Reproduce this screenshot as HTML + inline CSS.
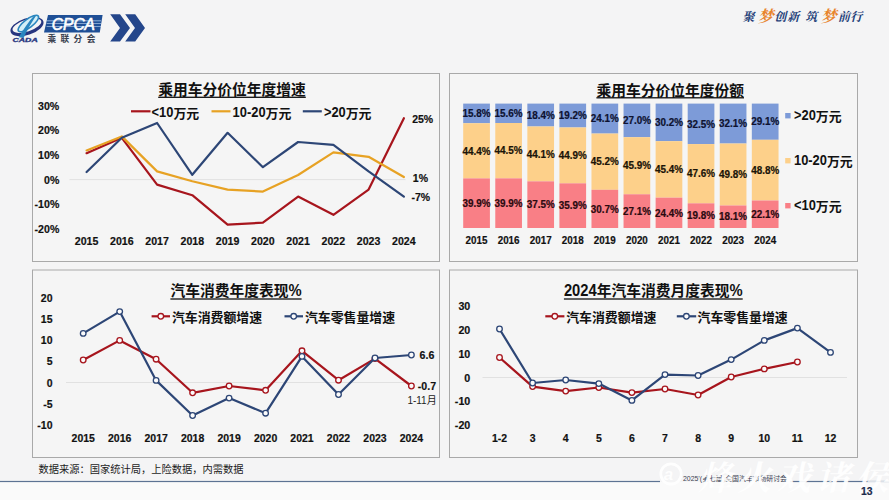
<!DOCTYPE html>
<html lang="zh"><head><meta charset="utf-8"><title>CPCA slide 13</title>
<style>
html,body{margin:0;padding:0;background:#f4f4f5;}
body{width:889px;height:500px;overflow:hidden;font-family:"Liberation Sans","Noto Sans CJK SC",sans-serif;}
svg{display:block;}
svg text{font-family:"Liberation Sans","Noto Sans CJK SC",sans-serif;}
</style></head><body>
<svg width="889" height="500" viewBox="0 0 889 500" font-family="Liberation Sans, Noto Sans CJK SC, sans-serif">
<rect x="0" y="0" width="889" height="500" fill="#f4f4f5"/>
<rect x="0" y="482" width="889" height="18" fill="#fafafa"/>
<rect x="32.5" y="73.5" width="407.0" height="188.0" fill="#f5f5f5" stroke="#a9a9a9" stroke-width="1"/>
<rect x="449.5" y="73.5" width="408.0" height="188.0" fill="#f5f5f5" stroke="#a9a9a9" stroke-width="1"/>
<rect x="32.5" y="270.0" width="407.0" height="187.5" fill="#f5f5f5" stroke="#a9a9a9" stroke-width="1"/>
<rect x="449.5" y="270.0" width="408.0" height="187.5" fill="#f5f5f5" stroke="#a9a9a9" stroke-width="1"/>
<g fill="#111111" aria-label="乘用车分价位年度增速"><text x="158.2" y="94.8" font-size="14.76" font-weight="bold">乘用车分价位年度增速</text></g>
<rect x="158.20" y="96.65" width="147.60" height="1.3" fill="#111111"/>
<line x1="131" y1="111.3" x2="150.5" y2="111.3" stroke="#a7151d" stroke-width="2.2"/>
<g fill="#111111" aria-label="&lt;10万元"><text transform="translate(151.60 117.37) scale(1 1.080)" font-size="12.90" font-weight="bold">&lt;10</text><text x="173.4" y="117.5" font-size="12.9" font-weight="bold">万元</text></g>
<line x1="211.5" y1="111.3" x2="230.5" y2="111.3" stroke="#e7a224" stroke-width="2.2"/>
<g fill="#111111" aria-label="10-20万元"><text transform="translate(232.60 117.37) scale(1 1.080)" font-size="12.90" font-weight="bold">10-20</text><text x="265.5" y="117.5" font-size="12.9" font-weight="bold">万元</text></g>
<line x1="302.8" y1="111.3" x2="321.8" y2="111.3" stroke="#2d4676" stroke-width="2.2"/>
<g fill="#111111" aria-label="&gt;20万元"><text transform="translate(323.90 117.37) scale(1 1.080)" font-size="12.90" font-weight="bold">&gt;20</text><text x="345.7" y="117.5" font-size="12.9" font-weight="bold">万元</text></g>
<text transform="translate(59.30 109.94) scale(1 1.080)" font-size="10.60" font-weight="bold" text-anchor="end" fill="#111111" stroke="#111111" stroke-width="0.18">30%</text>
<text transform="translate(59.30 134.44) scale(1 1.080)" font-size="10.60" font-weight="bold" text-anchor="end" fill="#111111" stroke="#111111" stroke-width="0.18">20%</text>
<text transform="translate(59.30 159.04) scale(1 1.080)" font-size="10.60" font-weight="bold" text-anchor="end" fill="#111111" stroke="#111111" stroke-width="0.18">10%</text>
<text transform="translate(59.30 183.64) scale(1 1.080)" font-size="10.60" font-weight="bold" text-anchor="end" fill="#111111" stroke="#111111" stroke-width="0.18">0%</text>
<text transform="translate(59.30 208.24) scale(1 1.080)" font-size="10.60" font-weight="bold" text-anchor="end" fill="#111111" stroke="#111111" stroke-width="0.18">-10%</text>
<text transform="translate(59.30 232.84) scale(1 1.080)" font-size="10.60" font-weight="bold" text-anchor="end" fill="#111111" stroke="#111111" stroke-width="0.18">-20%</text>
<line x1="69.5" y1="179.6" x2="405.5" y2="179.6" stroke="#dcdcdc" stroke-width="0.8"/>
<text transform="translate(86.60 245.34) scale(1 1.080)" font-size="10.60" font-weight="bold" text-anchor="middle" fill="#111111" stroke="#111111" stroke-width="0.18">2015</text>
<text transform="translate(121.85 245.34) scale(1 1.080)" font-size="10.60" font-weight="bold" text-anchor="middle" fill="#111111" stroke="#111111" stroke-width="0.18">2016</text>
<text transform="translate(157.10 245.34) scale(1 1.080)" font-size="10.60" font-weight="bold" text-anchor="middle" fill="#111111" stroke="#111111" stroke-width="0.18">2017</text>
<text transform="translate(192.35 245.34) scale(1 1.080)" font-size="10.60" font-weight="bold" text-anchor="middle" fill="#111111" stroke="#111111" stroke-width="0.18">2018</text>
<text transform="translate(227.60 245.34) scale(1 1.080)" font-size="10.60" font-weight="bold" text-anchor="middle" fill="#111111" stroke="#111111" stroke-width="0.18">2019</text>
<text transform="translate(262.85 245.34) scale(1 1.080)" font-size="10.60" font-weight="bold" text-anchor="middle" fill="#111111" stroke="#111111" stroke-width="0.18">2020</text>
<text transform="translate(298.10 245.34) scale(1 1.080)" font-size="10.60" font-weight="bold" text-anchor="middle" fill="#111111" stroke="#111111" stroke-width="0.18">2021</text>
<text transform="translate(333.35 245.34) scale(1 1.080)" font-size="10.60" font-weight="bold" text-anchor="middle" fill="#111111" stroke="#111111" stroke-width="0.18">2022</text>
<text transform="translate(368.60 245.34) scale(1 1.080)" font-size="10.60" font-weight="bold" text-anchor="middle" fill="#111111" stroke="#111111" stroke-width="0.18">2023</text>
<text transform="translate(403.85 245.34) scale(1 1.080)" font-size="10.60" font-weight="bold" text-anchor="middle" fill="#111111" stroke="#111111" stroke-width="0.18">2024</text>
<polyline fill="none" stroke="#a7151d" stroke-width="2.20" stroke-linejoin="round" stroke-linecap="round" points="86.6,153.2 121.8,137.8 157.1,184.6 192.3,195.2 227.6,224.6 262.9,222.7 298.1,196.6 333.4,214.8 368.6,189.6 403.9,118.2"/>
<polyline fill="none" stroke="#e7a224" stroke-width="2.20" stroke-linejoin="round" stroke-linecap="round" points="86.6,150.4 121.8,136.4 157.1,171.4 192.3,181.2 227.6,189.6 262.9,191.6 298.1,175.0 333.4,152.4 368.6,156.8 403.9,177.0"/>
<polyline fill="none" stroke="#2d4676" stroke-width="2.20" stroke-linejoin="round" stroke-linecap="round" points="86.6,172.0 121.8,137.8 157.1,123.0 192.3,174.8 227.6,132.8 262.9,167.2 298.1,142.0 333.4,144.8 368.6,171.4 403.9,196.6"/>
<text transform="translate(412.20 123.30) scale(1 1.080)" font-size="10.50" font-weight="bold" text-anchor="start" fill="#111111" stroke="#111111" stroke-width="0.18">25%</text>
<text transform="translate(412.80 181.70) scale(1 1.080)" font-size="10.50" font-weight="bold" text-anchor="start" fill="#111111" stroke="#111111" stroke-width="0.18">1%</text>
<text transform="translate(411.40 201.10) scale(1 1.080)" font-size="10.50" font-weight="bold" text-anchor="start" fill="#111111" stroke="#111111" stroke-width="0.18">-7%</text>
<g fill="#111111" aria-label="乘用车分价位年度份额"><text x="596.4" y="95.6" font-size="14.76" font-weight="bold">乘用车分价位年度份额</text></g>
<rect x="596.40" y="97.15" width="147.60" height="1.3" fill="#111111"/>
<rect x="463.20" y="103.60" width="26.70" height="19.64" fill="#7d9bd8"/>
<rect x="463.20" y="123.24" width="26.70" height="55.18" fill="#fdd08a"/>
<rect x="463.20" y="178.41" width="26.70" height="49.59" fill="#f97f86"/>
<text transform="translate(476.55 117.10) scale(1 1.080)" font-size="9.90" font-weight="bold" text-anchor="middle" fill="#0d1230" stroke="#0d1230" stroke-width="0.20">15.8%</text>
<text transform="translate(476.55 154.50) scale(1 1.080)" font-size="9.90" font-weight="bold" text-anchor="middle" fill="#1a1408" stroke="#1a1408" stroke-width="0.20">44.4%</text>
<text transform="translate(476.55 206.89) scale(1 1.080)" font-size="9.90" font-weight="bold" text-anchor="middle" fill="#2a0a10" stroke="#2a0a10" stroke-width="0.20">39.9%</text>
<text transform="translate(476.55 244.36) scale(1 1.080)" font-size="9.85" font-weight="bold" text-anchor="middle" fill="#111111" stroke="#111111" stroke-width="0.18">2015</text>
<rect x="495.27" y="103.60" width="26.70" height="19.41" fill="#7d9bd8"/>
<rect x="495.27" y="123.01" width="26.70" height="55.36" fill="#fdd08a"/>
<rect x="495.27" y="178.36" width="26.70" height="49.64" fill="#f97f86"/>
<text transform="translate(508.62 116.98) scale(1 1.080)" font-size="9.90" font-weight="bold" text-anchor="middle" fill="#0d1230" stroke="#0d1230" stroke-width="0.20">15.6%</text>
<text transform="translate(508.62 154.36) scale(1 1.080)" font-size="9.90" font-weight="bold" text-anchor="middle" fill="#1a1408" stroke="#1a1408" stroke-width="0.20">44.5%</text>
<text transform="translate(508.62 206.86) scale(1 1.080)" font-size="9.90" font-weight="bold" text-anchor="middle" fill="#2a0a10" stroke="#2a0a10" stroke-width="0.20">39.9%</text>
<text transform="translate(508.62 244.36) scale(1 1.080)" font-size="9.85" font-weight="bold" text-anchor="middle" fill="#111111" stroke="#111111" stroke-width="0.18">2016</text>
<rect x="527.34" y="103.60" width="26.70" height="22.89" fill="#7d9bd8"/>
<rect x="527.34" y="126.49" width="26.70" height="54.86" fill="#fdd08a"/>
<rect x="527.34" y="181.35" width="26.70" height="46.65" fill="#f97f86"/>
<text transform="translate(540.69 118.72) scale(1 1.080)" font-size="9.90" font-weight="bold" text-anchor="middle" fill="#0d1230" stroke="#0d1230" stroke-width="0.20">18.4%</text>
<text transform="translate(540.69 157.60) scale(1 1.080)" font-size="9.90" font-weight="bold" text-anchor="middle" fill="#1a1408" stroke="#1a1408" stroke-width="0.20">44.1%</text>
<text transform="translate(540.69 208.35) scale(1 1.080)" font-size="9.90" font-weight="bold" text-anchor="middle" fill="#2a0a10" stroke="#2a0a10" stroke-width="0.20">37.5%</text>
<text transform="translate(540.69 244.36) scale(1 1.080)" font-size="9.85" font-weight="bold" text-anchor="middle" fill="#111111" stroke="#111111" stroke-width="0.18">2017</text>
<rect x="559.41" y="103.60" width="26.70" height="23.88" fill="#7d9bd8"/>
<rect x="559.41" y="127.48" width="26.70" height="55.86" fill="#fdd08a"/>
<rect x="559.41" y="183.34" width="26.70" height="44.66" fill="#f97f86"/>
<text transform="translate(572.76 119.22) scale(1 1.080)" font-size="9.90" font-weight="bold" text-anchor="middle" fill="#0d1230" stroke="#0d1230" stroke-width="0.20">19.2%</text>
<text transform="translate(572.76 159.09) scale(1 1.080)" font-size="9.90" font-weight="bold" text-anchor="middle" fill="#1a1408" stroke="#1a1408" stroke-width="0.20">44.9%</text>
<text transform="translate(572.76 209.35) scale(1 1.080)" font-size="9.90" font-weight="bold" text-anchor="middle" fill="#2a0a10" stroke="#2a0a10" stroke-width="0.20">35.9%</text>
<text transform="translate(572.76 244.36) scale(1 1.080)" font-size="9.85" font-weight="bold" text-anchor="middle" fill="#111111" stroke="#111111" stroke-width="0.18">2018</text>
<rect x="591.48" y="103.60" width="26.70" height="29.98" fill="#7d9bd8"/>
<rect x="591.48" y="133.58" width="26.70" height="56.23" fill="#fdd08a"/>
<rect x="591.48" y="189.81" width="26.70" height="38.19" fill="#f97f86"/>
<text transform="translate(604.83 122.27) scale(1 1.080)" font-size="9.90" font-weight="bold" text-anchor="middle" fill="#0d1230" stroke="#0d1230" stroke-width="0.20">24.1%</text>
<text transform="translate(604.83 165.37) scale(1 1.080)" font-size="9.90" font-weight="bold" text-anchor="middle" fill="#1a1408" stroke="#1a1408" stroke-width="0.20">45.2%</text>
<text transform="translate(604.83 212.58) scale(1 1.080)" font-size="9.90" font-weight="bold" text-anchor="middle" fill="#2a0a10" stroke="#2a0a10" stroke-width="0.20">30.7%</text>
<text transform="translate(604.83 244.36) scale(1 1.080)" font-size="9.85" font-weight="bold" text-anchor="middle" fill="#111111" stroke="#111111" stroke-width="0.18">2019</text>
<rect x="623.55" y="103.60" width="26.70" height="33.59" fill="#7d9bd8"/>
<rect x="623.55" y="137.19" width="26.70" height="57.10" fill="#fdd08a"/>
<rect x="623.55" y="194.29" width="26.70" height="33.71" fill="#f97f86"/>
<text transform="translate(636.90 124.07) scale(1 1.080)" font-size="9.90" font-weight="bold" text-anchor="middle" fill="#0d1230" stroke="#0d1230" stroke-width="0.20">27.0%</text>
<text transform="translate(636.90 169.42) scale(1 1.080)" font-size="9.90" font-weight="bold" text-anchor="middle" fill="#1a1408" stroke="#1a1408" stroke-width="0.20">45.9%</text>
<text transform="translate(636.90 214.82) scale(1 1.080)" font-size="9.90" font-weight="bold" text-anchor="middle" fill="#2a0a10" stroke="#2a0a10" stroke-width="0.20">27.1%</text>
<text transform="translate(636.90 244.36) scale(1 1.080)" font-size="9.85" font-weight="bold" text-anchor="middle" fill="#111111" stroke="#111111" stroke-width="0.18">2020</text>
<rect x="655.62" y="103.60" width="26.70" height="37.57" fill="#7d9bd8"/>
<rect x="655.62" y="141.17" width="26.70" height="56.48" fill="#fdd08a"/>
<rect x="655.62" y="197.65" width="26.70" height="30.35" fill="#f97f86"/>
<text transform="translate(668.97 126.06) scale(1 1.080)" font-size="9.90" font-weight="bold" text-anchor="middle" fill="#0d1230" stroke="#0d1230" stroke-width="0.20">30.2%</text>
<text transform="translate(668.97 173.09) scale(1 1.080)" font-size="9.90" font-weight="bold" text-anchor="middle" fill="#1a1408" stroke="#1a1408" stroke-width="0.20">45.4%</text>
<text transform="translate(668.97 216.50) scale(1 1.080)" font-size="9.90" font-weight="bold" text-anchor="middle" fill="#2a0a10" stroke="#2a0a10" stroke-width="0.20">24.4%</text>
<text transform="translate(668.97 244.36) scale(1 1.080)" font-size="9.85" font-weight="bold" text-anchor="middle" fill="#111111" stroke="#111111" stroke-width="0.18">2021</text>
<rect x="687.69" y="103.60" width="26.70" height="40.47" fill="#7d9bd8"/>
<rect x="687.69" y="144.07" width="26.70" height="59.27" fill="#fdd08a"/>
<rect x="687.69" y="203.34" width="26.70" height="24.66" fill="#f97f86"/>
<text transform="translate(701.04 127.51) scale(1 1.080)" font-size="9.90" font-weight="bold" text-anchor="middle" fill="#0d1230" stroke="#0d1230" stroke-width="0.20">32.5%</text>
<text transform="translate(701.04 177.39) scale(1 1.080)" font-size="9.90" font-weight="bold" text-anchor="middle" fill="#1a1408" stroke="#1a1408" stroke-width="0.20">47.6%</text>
<text transform="translate(701.04 219.35) scale(1 1.080)" font-size="9.90" font-weight="bold" text-anchor="middle" fill="#2a0a10" stroke="#2a0a10" stroke-width="0.20">19.8%</text>
<text transform="translate(701.04 244.36) scale(1 1.080)" font-size="9.85" font-weight="bold" text-anchor="middle" fill="#111111" stroke="#111111" stroke-width="0.18">2022</text>
<rect x="719.76" y="103.60" width="26.70" height="39.93" fill="#7d9bd8"/>
<rect x="719.76" y="143.53" width="26.70" height="61.95" fill="#fdd08a"/>
<rect x="719.76" y="205.48" width="26.70" height="22.52" fill="#f97f86"/>
<text transform="translate(733.11 127.24) scale(1 1.080)" font-size="9.90" font-weight="bold" text-anchor="middle" fill="#0d1230" stroke="#0d1230" stroke-width="0.20">32.1%</text>
<text transform="translate(733.11 178.19) scale(1 1.080)" font-size="9.90" font-weight="bold" text-anchor="middle" fill="#1a1408" stroke="#1a1408" stroke-width="0.20">49.8%</text>
<text transform="translate(733.11 220.42) scale(1 1.080)" font-size="9.90" font-weight="bold" text-anchor="middle" fill="#2a0a10" stroke="#2a0a10" stroke-width="0.20">18.1%</text>
<text transform="translate(733.11 244.36) scale(1 1.080)" font-size="9.85" font-weight="bold" text-anchor="middle" fill="#111111" stroke="#111111" stroke-width="0.18">2023</text>
<rect x="751.83" y="103.60" width="26.70" height="36.20" fill="#7d9bd8"/>
<rect x="751.83" y="139.80" width="26.70" height="60.71" fill="#fdd08a"/>
<rect x="751.83" y="200.51" width="26.70" height="27.49" fill="#f97f86"/>
<text transform="translate(765.18 125.38) scale(1 1.080)" font-size="9.90" font-weight="bold" text-anchor="middle" fill="#0d1230" stroke="#0d1230" stroke-width="0.20">29.1%</text>
<text transform="translate(765.18 173.83) scale(1 1.080)" font-size="9.90" font-weight="bold" text-anchor="middle" fill="#1a1408" stroke="#1a1408" stroke-width="0.20">48.8%</text>
<text transform="translate(765.18 217.93) scale(1 1.080)" font-size="9.90" font-weight="bold" text-anchor="middle" fill="#2a0a10" stroke="#2a0a10" stroke-width="0.20">22.1%</text>
<text transform="translate(765.18 244.36) scale(1 1.080)" font-size="9.85" font-weight="bold" text-anchor="middle" fill="#111111" stroke="#111111" stroke-width="0.18">2024</text>
<rect x="785.2" y="113.0" width="5.4" height="5.4" fill="#7d9bd8"/>
<g fill="#111111" aria-label="&gt;20万元"><text transform="translate(794.00 120.37) scale(1 1.080)" font-size="12.90" font-weight="bold">&gt;20</text><text x="815.8" y="120.5" font-size="12.9" font-weight="bold">万元</text></g>
<rect x="785.2" y="158.0" width="5.4" height="5.4" fill="#fdd08a"/>
<g fill="#111111" aria-label="10-20万元"><text transform="translate(794.00 165.37) scale(1 1.080)" font-size="12.90" font-weight="bold">10-20</text><text x="826.9" y="165.5" font-size="12.9" font-weight="bold">万元</text></g>
<rect x="785.2" y="203.0" width="5.4" height="5.4" fill="#f97f86"/>
<g fill="#111111" aria-label="&lt;10万元"><text transform="translate(794.00 210.37) scale(1 1.080)" font-size="12.90" font-weight="bold">&lt;10</text><text x="815.8" y="210.5" font-size="12.9" font-weight="bold">万元</text></g>
<g fill="#111111" aria-label="汽车消费年度表现%"><text x="170.4" y="296.4" font-size="14.76" font-weight="bold">汽车消费年度表现</text><text transform="translate(288.48 296.38) scale(1 1.080)" font-size="14.76" font-weight="bold">%</text></g>
<rect x="170.40" y="298.35" width="131.20" height="1.3" fill="#111111"/>
<line x1="151.6" y1="316.3" x2="170" y2="316.3" stroke="#a7151d" stroke-width="2.2"/>
<circle cx="160.8" cy="316.3" r="2.8" fill="#fbfbfb" stroke="#a7151d" stroke-width="1.3"/>
<g fill="#111111" aria-label="汽车消费额增速"><text x="171.9" y="322.4" font-size="12.9" font-weight="bold">汽车消费额增速</text></g>
<line x1="284.5" y1="316.3" x2="303" y2="316.3" stroke="#2d4676" stroke-width="2.2"/>
<circle cx="293.7" cy="316.3" r="2.8" fill="#fbfbfb" stroke="#2d4676" stroke-width="1.3"/>
<g fill="#111111" aria-label="汽车零售量增速"><text x="304.9" y="322.4" font-size="12.9" font-weight="bold">汽车零售量增速</text></g>
<text transform="translate(52.50 302.40) scale(1 1.080)" font-size="10.50" font-weight="bold" text-anchor="end" fill="#111111" stroke="#111111" stroke-width="0.18">20</text>
<text transform="translate(52.50 323.40) scale(1 1.080)" font-size="10.50" font-weight="bold" text-anchor="end" fill="#111111" stroke="#111111" stroke-width="0.18">15</text>
<text transform="translate(52.50 344.40) scale(1 1.080)" font-size="10.50" font-weight="bold" text-anchor="end" fill="#111111" stroke="#111111" stroke-width="0.18">10</text>
<text transform="translate(52.50 365.40) scale(1 1.080)" font-size="10.50" font-weight="bold" text-anchor="end" fill="#111111" stroke="#111111" stroke-width="0.18">5</text>
<text transform="translate(52.50 386.50) scale(1 1.080)" font-size="10.50" font-weight="bold" text-anchor="end" fill="#111111" stroke="#111111" stroke-width="0.18">0</text>
<text transform="translate(52.50 407.50) scale(1 1.080)" font-size="10.50" font-weight="bold" text-anchor="end" fill="#111111" stroke="#111111" stroke-width="0.18">-5</text>
<text transform="translate(52.50 428.50) scale(1 1.080)" font-size="10.50" font-weight="bold" text-anchor="end" fill="#111111" stroke="#111111" stroke-width="0.18">-10</text>
<line x1="66" y1="382.5" x2="407" y2="382.5" stroke="#dcdcdc" stroke-width="0.8"/>
<text transform="translate(83.20 442.20) scale(1 1.080)" font-size="10.50" font-weight="bold" text-anchor="middle" fill="#111111" stroke="#111111" stroke-width="0.18">2015</text>
<text transform="translate(119.67 442.20) scale(1 1.080)" font-size="10.50" font-weight="bold" text-anchor="middle" fill="#111111" stroke="#111111" stroke-width="0.18">2016</text>
<text transform="translate(156.14 442.20) scale(1 1.080)" font-size="10.50" font-weight="bold" text-anchor="middle" fill="#111111" stroke="#111111" stroke-width="0.18">2017</text>
<text transform="translate(192.61 442.20) scale(1 1.080)" font-size="10.50" font-weight="bold" text-anchor="middle" fill="#111111" stroke="#111111" stroke-width="0.18">2018</text>
<text transform="translate(229.08 442.20) scale(1 1.080)" font-size="10.50" font-weight="bold" text-anchor="middle" fill="#111111" stroke="#111111" stroke-width="0.18">2019</text>
<text transform="translate(265.55 442.20) scale(1 1.080)" font-size="10.50" font-weight="bold" text-anchor="middle" fill="#111111" stroke="#111111" stroke-width="0.18">2020</text>
<text transform="translate(302.02 442.20) scale(1 1.080)" font-size="10.50" font-weight="bold" text-anchor="middle" fill="#111111" stroke="#111111" stroke-width="0.18">2021</text>
<text transform="translate(338.49 442.20) scale(1 1.080)" font-size="10.50" font-weight="bold" text-anchor="middle" fill="#111111" stroke="#111111" stroke-width="0.18">2022</text>
<text transform="translate(374.96 442.20) scale(1 1.080)" font-size="10.50" font-weight="bold" text-anchor="middle" fill="#111111" stroke="#111111" stroke-width="0.18">2023</text>
<text transform="translate(411.43 442.20) scale(1 1.080)" font-size="10.50" font-weight="bold" text-anchor="middle" fill="#111111" stroke="#111111" stroke-width="0.18">2024</text>
<polyline fill="none" stroke="#a7151d" stroke-width="2.20" stroke-linejoin="round" stroke-linecap="round" points="83.2,360.0 119.7,340.4 156.1,359.2 192.6,392.8 229.1,386.0 265.6,390.3 302.0,350.8 338.5,380.2 375.0,358.6 411.4,386.0"/>
<circle cx="83.2" cy="360.0" r="2.8" fill="#fbfbfb" stroke="#a7151d" stroke-width="1.3"/>
<circle cx="119.7" cy="340.4" r="2.8" fill="#fbfbfb" stroke="#a7151d" stroke-width="1.3"/>
<circle cx="156.1" cy="359.2" r="2.8" fill="#fbfbfb" stroke="#a7151d" stroke-width="1.3"/>
<circle cx="192.6" cy="392.8" r="2.8" fill="#fbfbfb" stroke="#a7151d" stroke-width="1.3"/>
<circle cx="229.1" cy="386.0" r="2.8" fill="#fbfbfb" stroke="#a7151d" stroke-width="1.3"/>
<circle cx="265.6" cy="390.3" r="2.8" fill="#fbfbfb" stroke="#a7151d" stroke-width="1.3"/>
<circle cx="302.0" cy="350.8" r="2.8" fill="#fbfbfb" stroke="#a7151d" stroke-width="1.3"/>
<circle cx="338.5" cy="380.2" r="2.8" fill="#fbfbfb" stroke="#a7151d" stroke-width="1.3"/>
<circle cx="375.0" cy="358.6" r="2.8" fill="#fbfbfb" stroke="#a7151d" stroke-width="1.3"/>
<circle cx="411.4" cy="386.0" r="2.8" fill="#fbfbfb" stroke="#a7151d" stroke-width="1.3"/>
<polyline fill="none" stroke="#2d4676" stroke-width="2.20" stroke-linejoin="round" stroke-linecap="round" points="83.2,333.4 119.7,311.6 156.1,380.4 192.6,415.5 229.1,398.1 265.6,413.2 302.0,356.4 338.5,394.5 375.0,358.0 411.4,355.0"/>
<circle cx="83.2" cy="333.4" r="2.8" fill="#fbfbfb" stroke="#2d4676" stroke-width="1.3"/>
<circle cx="119.7" cy="311.6" r="2.8" fill="#fbfbfb" stroke="#2d4676" stroke-width="1.3"/>
<circle cx="156.1" cy="380.4" r="2.8" fill="#fbfbfb" stroke="#2d4676" stroke-width="1.3"/>
<circle cx="192.6" cy="415.5" r="2.8" fill="#fbfbfb" stroke="#2d4676" stroke-width="1.3"/>
<circle cx="229.1" cy="398.1" r="2.8" fill="#fbfbfb" stroke="#2d4676" stroke-width="1.3"/>
<circle cx="265.6" cy="413.2" r="2.8" fill="#fbfbfb" stroke="#2d4676" stroke-width="1.3"/>
<circle cx="302.0" cy="356.4" r="2.8" fill="#fbfbfb" stroke="#2d4676" stroke-width="1.3"/>
<circle cx="338.5" cy="394.5" r="2.8" fill="#fbfbfb" stroke="#2d4676" stroke-width="1.3"/>
<circle cx="375.0" cy="358.0" r="2.8" fill="#fbfbfb" stroke="#2d4676" stroke-width="1.3"/>
<circle cx="411.4" cy="355.0" r="2.8" fill="#fbfbfb" stroke="#2d4676" stroke-width="1.3"/>
<text transform="translate(419.60 359.24) scale(1 1.080)" font-size="10.60" font-weight="bold" text-anchor="start" fill="#111111" stroke="#111111" stroke-width="0.18">6.6</text>
<text transform="translate(417.80 390.14) scale(1 1.080)" font-size="10.60" font-weight="bold" text-anchor="start" fill="#111111" stroke="#111111" stroke-width="0.18">-0.7</text>
<g fill="#222" aria-label="1-11月"><text transform="translate(407.40 404.15) scale(1 1.080)" font-size="10.00">1-11</text><text x="426.8" y="404.2" font-size="10">月</text></g>
<g fill="#111111" aria-label="2024年汽车消费月度表现%"><text transform="translate(563.90 296.38) scale(1 1.080)" font-size="14.76" font-weight="bold">2024</text><text x="596.8" y="296.4" font-size="14.76" font-weight="bold">年汽车消费月度表现</text><text transform="translate(729.58 296.38) scale(1 1.080)" font-size="14.76" font-weight="bold">%</text></g>
<rect x="563.90" y="298.35" width="178.80" height="1.3" fill="#111111"/>
<line x1="545.3" y1="316.3" x2="564.4" y2="316.3" stroke="#a7151d" stroke-width="2.2"/>
<circle cx="554.8" cy="316.3" r="2.8" fill="#fbfbfb" stroke="#a7151d" stroke-width="1.3"/>
<g fill="#111111" aria-label="汽车消费额增速"><text x="566.2" y="322.4" font-size="12.9" font-weight="bold">汽车消费额增速</text></g>
<line x1="676.8" y1="316.3" x2="696.2" y2="316.3" stroke="#2d4676" stroke-width="2.2"/>
<circle cx="686.4" cy="316.3" r="2.8" fill="#fbfbfb" stroke="#2d4676" stroke-width="1.3"/>
<g fill="#111111" aria-label="汽车零售量增速"><text x="697.5" y="322.4" font-size="12.9" font-weight="bold">汽车零售量增速</text></g>
<text transform="translate(470.30 310.48) scale(1 1.080)" font-size="10.70" font-weight="bold" text-anchor="end" fill="#111111" stroke="#111111" stroke-width="0.18">30</text>
<text transform="translate(470.30 334.18) scale(1 1.080)" font-size="10.70" font-weight="bold" text-anchor="end" fill="#111111" stroke="#111111" stroke-width="0.18">20</text>
<text transform="translate(470.30 357.88) scale(1 1.080)" font-size="10.70" font-weight="bold" text-anchor="end" fill="#111111" stroke="#111111" stroke-width="0.18">10</text>
<text transform="translate(470.30 381.58) scale(1 1.080)" font-size="10.70" font-weight="bold" text-anchor="end" fill="#111111" stroke="#111111" stroke-width="0.18">0</text>
<text transform="translate(470.30 405.28) scale(1 1.080)" font-size="10.70" font-weight="bold" text-anchor="end" fill="#111111" stroke="#111111" stroke-width="0.18">-10</text>
<text transform="translate(470.30 428.98) scale(1 1.080)" font-size="10.70" font-weight="bold" text-anchor="end" fill="#111111" stroke="#111111" stroke-width="0.18">-20</text>
<line x1="482.5" y1="377.5" x2="847" y2="377.5" stroke="#dcdcdc" stroke-width="0.8"/>
<text transform="translate(499.50 442.20) scale(1 1.080)" font-size="10.50" font-weight="bold" text-anchor="middle" fill="#111111" stroke="#111111" stroke-width="0.18">1-2</text>
<text transform="translate(532.60 442.20) scale(1 1.080)" font-size="10.50" font-weight="bold" text-anchor="middle" fill="#111111" stroke="#111111" stroke-width="0.18">3</text>
<text transform="translate(565.70 442.20) scale(1 1.080)" font-size="10.50" font-weight="bold" text-anchor="middle" fill="#111111" stroke="#111111" stroke-width="0.18">4</text>
<text transform="translate(598.80 442.20) scale(1 1.080)" font-size="10.50" font-weight="bold" text-anchor="middle" fill="#111111" stroke="#111111" stroke-width="0.18">5</text>
<text transform="translate(631.90 442.20) scale(1 1.080)" font-size="10.50" font-weight="bold" text-anchor="middle" fill="#111111" stroke="#111111" stroke-width="0.18">6</text>
<text transform="translate(665.00 442.20) scale(1 1.080)" font-size="10.50" font-weight="bold" text-anchor="middle" fill="#111111" stroke="#111111" stroke-width="0.18">7</text>
<text transform="translate(698.10 442.20) scale(1 1.080)" font-size="10.50" font-weight="bold" text-anchor="middle" fill="#111111" stroke="#111111" stroke-width="0.18">8</text>
<text transform="translate(731.20 442.20) scale(1 1.080)" font-size="10.50" font-weight="bold" text-anchor="middle" fill="#111111" stroke="#111111" stroke-width="0.18">9</text>
<text transform="translate(764.30 442.20) scale(1 1.080)" font-size="10.50" font-weight="bold" text-anchor="middle" fill="#111111" stroke="#111111" stroke-width="0.18">10</text>
<text transform="translate(797.40 442.20) scale(1 1.080)" font-size="10.50" font-weight="bold" text-anchor="middle" fill="#111111" stroke="#111111" stroke-width="0.18">11</text>
<text transform="translate(830.50 442.20) scale(1 1.080)" font-size="10.50" font-weight="bold" text-anchor="middle" fill="#111111" stroke="#111111" stroke-width="0.18">12</text>
<polyline fill="none" stroke="#a7151d" stroke-width="2.20" stroke-linejoin="round" stroke-linecap="round" points="499.5,357.5 532.6,386.6 565.7,391.1 598.8,387.5 631.9,392.6 665.0,389.0 698.1,395.0 731.2,377.0 764.3,368.9 797.4,362.0"/>
<circle cx="499.5" cy="357.5" r="2.8" fill="#fbfbfb" stroke="#a7151d" stroke-width="1.3"/>
<circle cx="532.6" cy="386.6" r="2.8" fill="#fbfbfb" stroke="#a7151d" stroke-width="1.3"/>
<circle cx="565.7" cy="391.1" r="2.8" fill="#fbfbfb" stroke="#a7151d" stroke-width="1.3"/>
<circle cx="598.8" cy="387.5" r="2.8" fill="#fbfbfb" stroke="#a7151d" stroke-width="1.3"/>
<circle cx="631.9" cy="392.6" r="2.8" fill="#fbfbfb" stroke="#a7151d" stroke-width="1.3"/>
<circle cx="665.0" cy="389.0" r="2.8" fill="#fbfbfb" stroke="#a7151d" stroke-width="1.3"/>
<circle cx="698.1" cy="395.0" r="2.8" fill="#fbfbfb" stroke="#a7151d" stroke-width="1.3"/>
<circle cx="731.2" cy="377.0" r="2.8" fill="#fbfbfb" stroke="#a7151d" stroke-width="1.3"/>
<circle cx="764.3" cy="368.9" r="2.8" fill="#fbfbfb" stroke="#a7151d" stroke-width="1.3"/>
<circle cx="797.4" cy="362.0" r="2.8" fill="#fbfbfb" stroke="#a7151d" stroke-width="1.3"/>
<polyline fill="none" stroke="#2d4676" stroke-width="2.20" stroke-linejoin="round" stroke-linecap="round" points="499.5,329.0 532.6,383.0 565.7,380.0 598.8,383.6 631.9,400.4 665.0,374.6 698.1,375.5 731.2,359.6 764.3,340.4 797.4,328.1 830.5,352.4"/>
<circle cx="499.5" cy="329.0" r="2.8" fill="#fbfbfb" stroke="#2d4676" stroke-width="1.3"/>
<circle cx="532.6" cy="383.0" r="2.8" fill="#fbfbfb" stroke="#2d4676" stroke-width="1.3"/>
<circle cx="565.7" cy="380.0" r="2.8" fill="#fbfbfb" stroke="#2d4676" stroke-width="1.3"/>
<circle cx="598.8" cy="383.6" r="2.8" fill="#fbfbfb" stroke="#2d4676" stroke-width="1.3"/>
<circle cx="631.9" cy="400.4" r="2.8" fill="#fbfbfb" stroke="#2d4676" stroke-width="1.3"/>
<circle cx="665.0" cy="374.6" r="2.8" fill="#fbfbfb" stroke="#2d4676" stroke-width="1.3"/>
<circle cx="698.1" cy="375.5" r="2.8" fill="#fbfbfb" stroke="#2d4676" stroke-width="1.3"/>
<circle cx="731.2" cy="359.6" r="2.8" fill="#fbfbfb" stroke="#2d4676" stroke-width="1.3"/>
<circle cx="764.3" cy="340.4" r="2.8" fill="#fbfbfb" stroke="#2d4676" stroke-width="1.3"/>
<circle cx="797.4" cy="328.1" r="2.8" fill="#fbfbfb" stroke="#2d4676" stroke-width="1.3"/>
<circle cx="830.5" cy="352.4" r="2.8" fill="#fbfbfb" stroke="#2d4676" stroke-width="1.3"/>
<g fill="#1c1c1c" aria-label="数据来源：国家统计局，上险数据，内需数据"><text x="38.4" y="472.6" font-size="10.25">数据来源：国家统计局，上险数据，内需数据</text></g>
<rect x="0" y="480.9" width="660" height="1.2" fill="#5d7393"/>
<rect x="790" y="480.9" width="99" height="1.2" fill="#5d7393"/>
<g fill="#3a4152" aria-label="2025’(第七届)全国汽车市场研讨会"><text transform="translate(683.00 480.86) scale(1 1.080)" font-size="6.90">2025’(</text><text x="702.3" y="480.9" font-size="6.7">第七届</text><text transform="translate(722.88 480.86) scale(1 1.080)" font-size="6.90">)</text><text x="725.2" y="480.9" font-size="6.87">全国汽车市场研讨会</text></g>
<g aria-label="CADA logo">
<g transform="rotate(-18 27 26.6)">
<path fill-rule="evenodd" fill="#27357f" d="M9.8 26.6a17.2 8.3 0 1 0 34.4 0a17.2 8.3 0 1 0 -34.4 0Z M12.2 25.7a15 5.9 0 1 0 30 0a15 5.9 0 1 0 -30 0Z"/>
</g>
<g transform="rotate(-37 28 23)">
<ellipse cx="28" cy="23.6" rx="12.4" ry="4.3" fill="#d3eff7" stroke="#2a86bf" stroke-width="1.6"/>
</g>
<path d="M34.6 15 L36 15.8 C31.5 22.5 27.3 29.8 23.6 37.9 L18.8 37.3 C23 29.8 28 22.5 34.6 15 Z" fill="#2a86bf"/>
<text x="12.5" y="42" font-size="5.9" font-weight="bold" font-style="italic" fill="#27357f" stroke="#27357f" stroke-width="0.3" textLength="25.2" lengthAdjust="spacingAndGlyphs">CADA</text>
</g>
<path d="M48 14.9 L102.6 14.9 L99.8 32.6 L44 32.6 Z" fill="#1f4f96"/>
<line x1="46.6" y1="20.8" x2="101" y2="20.8" stroke="#b3cdec" stroke-width="0.8" opacity="0.95"/>
<line x1="46.6" y1="23.6" x2="101" y2="23.6" stroke="#b3cdec" stroke-width="0.8" opacity="0.95"/>
<line x1="46.6" y1="26.4" x2="101" y2="26.4" stroke="#b3cdec" stroke-width="0.8" opacity="0.95"/>
<text x="51.8" y="30.3" font-size="16.9" font-style="italic" fill="#ffffff" stroke="#ffffff" stroke-width="0.65" textLength="43.2" lengthAdjust="spacingAndGlyphs">CPCA</text>
<text x="47.4" y="41.9" font-size="8.7" font-weight="bold" letter-spacing="4.4" fill="#3b4250" aria-label="乘联分会">乘联分会</text>
<path d="M110.2 14.3 L120 14.3 L130 28 L120 41.6 L110.2 41.6 L120 28 Z" fill="#24468b"/>
<path d="M125.2 14.3 L135.2 14.3 L145 28 L135.2 41.6 L125.2 41.6 L135 28 Z" fill="#24468b"/>
<g aria-label="聚梦创新 筑梦前行" font-weight="bold" font-style="italic">
<text x="742.5" y="20.6" font-size="12" fill="#233e78" style="font-family:'Liberation Serif','Noto Serif CJK SC',serif">聚</text>
<text x="757.8" y="21.8" font-size="16" fill="#e8842c" style="font-family:'Liberation Serif','Noto Serif CJK SC',serif">梦</text>
<text x="774.3" y="20.6" font-size="12" fill="#233e78" style="font-family:'Liberation Serif','Noto Serif CJK SC',serif">创</text>
<text x="787.3" y="20.6" font-size="12" fill="#233e78" style="font-family:'Liberation Serif','Noto Serif CJK SC',serif">新</text>
<text x="805.3" y="20.6" font-size="12" fill="#233e78" style="font-family:'Liberation Serif','Noto Serif CJK SC',serif">筑</text>
<text x="820.8" y="21.8" font-size="16" fill="#e8842c" style="font-family:'Liberation Serif','Noto Serif CJK SC',serif">梦</text>
<text x="838" y="20.6" font-size="12" fill="#233e78" style="font-family:'Liberation Serif','Noto Serif CJK SC',serif">前</text>
<text x="850.3" y="20.6" font-size="12" fill="#233e78" style="font-family:'Liberation Serif','Noto Serif CJK SC',serif">行</text>
</g>
<g fill="#ffffff" opacity="0.93" aria-label="@烽火戏诸侯">
<circle cx="671" cy="474" r="10.2" fill="none" stroke="#fff" stroke-width="2.8"/>
<text x="663.8" y="480" font-size="17" font-weight="bold" font-style="italic" fill="#fff">a</text>
<text x="698" y="490" font-size="34" font-weight="bold" font-style="italic" letter-spacing="5.3" fill="#fff" style="font-family:'Liberation Serif','Noto Serif CJK SC',serif">烽火戏诸侯</text>
</g>
<text transform="translate(861.00 495.46) scale(1 1.080)" font-size="10.40" font-weight="bold" text-anchor="start" fill="#1c2a4a" stroke="#1c2a4a" stroke-width="0.18">13</text>
</svg>
</body></html>
